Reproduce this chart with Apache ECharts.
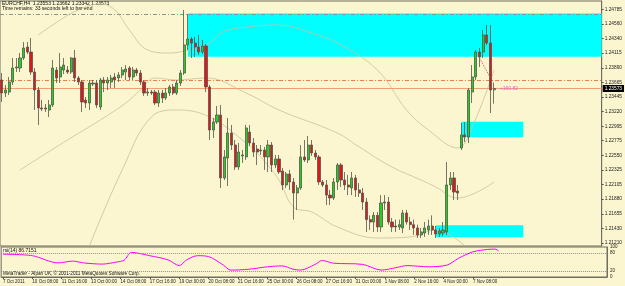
<!DOCTYPE html>
<html><head><meta charset="utf-8">
<script src="https://cdn.jsdelivr.net/npm/echarts@6/dist/echarts.min.js"></script>
<style>html,body{margin:0;padding:0;background:#fbf6cf;}#c{width:625px;height:286px;}</style>
</head><body><div id="c"></div>
<script>
const xTickLabels = ['7 Oct 2011','10 Oct 08:00','11 Oct 16:00','13 Oct 00:00','14 Oct 08:00','17 Oct 16:00','19 Oct 00:00','20 Oct 08:00','21 Oct 16:00','25 Oct 00:00','26 Oct 08:00','27 Oct 16:00','31 Oct 00:00','1 Nov 08:00','2 Nov 16:00','4 Nov 00:00','7 Nov 08:00'];
const priceTickLabels = ['1.24785','1.24560','1.24340','1.24115','1.23890','1.23665','1.23445','1.23220','1.22995','1.22775','1.22550','1.22325','1.22105','1.21880','1.21655','1.21430','1.21210'];
const rsiTickLabels = ['0','20','80','100'];

const opens = [
1.23703,1.23504,1.23519,1.23673,1.23887,1.23887,1.24040,1.24208,1.24131,1.23825,
1.23550,1.23275,1.23275,1.23244,1.23321,1.23856,1.23749,1.23856,1.23856,1.23825,
1.24040,1.23734,1.23673,1.23397,1.23351,1.23642,1.23657,1.23290,1.23703,1.23657,
1.23673,1.23749,1.23734,1.23780,1.23825,1.23887,1.23749,1.23856,1.23810,1.23673,
1.23504,1.23519,1.23519,1.23351,1.23504,1.23428,1.23504,1.23596,1.23504,1.23657,
1.23810,1.24239,1.24330,1.24269,1.24208,1.24131,1.24223,1.23596,1.22938,1.23061,
1.23168,1.22204,1.22510,1.22892,1.22708,1.22372,1.22541,1.22526,1.22907,1.22739,
1.22647,1.22617,1.22632,1.22526,1.22708,1.22403,1.22495,1.22311,1.22097,1.22265,
1.22143,1.21974,1.22051,1.22526,1.22480,1.22708,1.22586,1.22526,1.22143,1.22097,
1.21942,1.21898,1.22143,1.22403,1.22173,1.22097,1.22051,1.22204,1.22020,1.21974,
1.21836,1.21567,1.21530,1.21632,1.21454,1.21821,1.21836,1.21530,1.21469,1.21454,
1.21439,1.21668,1.21530,1.21490,1.21439,1.21332,1.21362,1.21408,1.21469,1.21408,
1.21347,1.21362,1.21378,1.22097,1.22204,1.22004,1.22663,1.22862,1.22831,1.23519,
1.23749,1.24131,1.24131,1.24392,1.24269,1.23553];
const highs = [
1.23810,1.23627,1.23749,1.24040,1.24040,1.24116,1.24284,1.24284,1.24346,1.23887,
1.23596,1.23397,1.23336,1.23397,1.24009,1.23902,1.24116,1.24040,1.23917,1.24055,
1.24162,1.23764,1.23703,1.23443,1.23703,1.23703,1.23703,1.23734,1.23749,1.23749,
1.23780,1.23810,1.23825,1.23902,1.23932,1.23917,1.23902,1.23887,1.23856,1.23703,
1.23581,1.23550,1.23550,1.23550,1.23550,1.23581,1.23627,1.23642,1.23703,1.23856,
1.24774,1.24713,1.24361,1.24361,1.24392,1.24315,1.24254,1.23627,1.23122,1.23305,
1.23321,1.22632,1.23122,1.23015,1.22785,1.22739,1.22632,1.23015,1.23015,1.22816,
1.22708,1.22708,1.22678,1.22785,1.22754,1.22556,1.22556,1.22357,1.22296,1.22327,
1.22204,1.22097,1.22708,1.22785,1.22846,1.22785,1.22632,1.22556,1.22173,1.22173,
1.22020,1.22204,1.22434,1.22434,1.22296,1.22250,1.22296,1.22250,1.22128,1.22051,
1.21898,1.21632,1.21683,1.21683,1.21942,1.21942,1.21913,1.21591,1.21567,1.21567,
1.21714,1.21714,1.21607,1.21567,1.21490,1.21439,1.21530,1.21567,1.21632,1.21469,
1.21439,1.21530,1.22449,1.22296,1.22296,1.22097,1.23045,1.23061,1.23581,1.23932,
1.24162,1.24193,1.24468,1.24545,1.24545,1.23662];
const lows = [
1.23367,1.23443,1.23474,1.23627,1.23825,1.23825,1.24009,1.24101,1.23780,1.23244,
1.23015,1.23229,1.23214,1.23137,1.23290,1.23657,1.23657,1.23795,1.23795,1.23795,
1.23673,1.23627,1.23214,1.23275,1.23244,1.23611,1.23275,1.23244,1.23519,1.23550,
1.23581,1.23581,1.23673,1.23734,1.23703,1.23703,1.23703,1.23764,1.23627,1.23459,
1.23459,1.23474,1.23321,1.23290,1.23351,1.23397,1.23459,1.23474,1.23474,1.23611,
1.23780,1.24162,1.24040,1.24055,1.24086,1.24101,1.23519,1.22785,1.22816,1.23030,
1.22051,1.22173,1.22081,1.22632,1.22327,1.22327,1.22434,1.22480,1.22693,1.22526,
1.22403,1.22556,1.22327,1.22296,1.22296,1.22357,1.22265,1.22020,1.22051,1.22020,
1.21567,1.21714,1.22020,1.22449,1.22434,1.22541,1.22480,1.22097,1.22066,1.21790,
1.21790,1.21867,1.22020,1.22066,1.22020,1.21942,1.21942,1.21913,1.21913,1.21714,
1.21378,1.21408,1.21378,1.21378,1.21378,1.21714,1.21490,1.21378,1.21378,1.21408,
1.21362,1.21490,1.21408,1.21332,1.21286,1.21286,1.21301,1.21332,1.21332,1.21286,
1.21301,1.21317,1.21332,1.22020,1.21867,1.21867,1.22632,1.22754,1.22739,1.23351,
1.23703,1.23902,1.24040,1.24239,1.23198,1.23342];
const closes = [
1.23504,1.23550,1.23673,1.23887,1.23902,1.24040,1.24193,1.24131,1.23825,1.23550,
1.23275,1.23260,1.23260,1.23321,1.23887,1.23734,1.23902,1.23932,1.23825,1.24040,
1.23734,1.23673,1.23367,1.23351,1.23657,1.23657,1.23321,1.23703,1.23657,1.23703,
1.23734,1.23703,1.23780,1.23856,1.23871,1.23749,1.23856,1.23810,1.23673,1.23504,
1.23519,1.23504,1.23351,1.23504,1.23428,1.23504,1.23596,1.23504,1.23657,1.23810,
1.24239,1.24330,1.24269,1.24208,1.24131,1.24223,1.23596,1.22938,1.23061,1.23168,
1.22204,1.22526,1.22892,1.22708,1.22372,1.22601,1.22556,1.22969,1.22739,1.22601,
1.22601,1.22632,1.22526,1.22708,1.22403,1.22495,1.22296,1.22097,1.22265,1.22143,
1.21974,1.22051,1.22526,1.22480,1.22708,1.22586,1.22526,1.22143,1.22097,1.21942,
1.21898,1.22143,1.22403,1.22173,1.22097,1.22066,1.22204,1.22020,1.21974,1.21836,
1.21567,1.21530,1.21632,1.21454,1.21821,1.21836,1.21530,1.21454,1.21454,1.21490,
1.21668,1.21530,1.21490,1.21439,1.21332,1.21378,1.21439,1.21469,1.21408,1.21347,
1.21393,1.21408,1.22097,1.22204,1.21989,1.21974,1.22862,1.22831,1.23550,1.23749,
1.24131,1.24055,1.24392,1.24269,1.23550,1.23573];

// Band lines: [bar index, price]
const upperBand = [[10,1.24392],[16,1.24621],[21,1.24774],[27,1.24866],[31,1.24774],[35,1.24468],[40,1.24162],[46,1.24116],[50,1.24147],[57,1.24269],[60,1.24422],[65,1.24499],[76,1.24545],[85,1.24422],[92,1.24269],[103,1.23856],[111,1.23244],[117,1.22938],[125,1.22663],[129,1.22984],[135,1.23856]];
const middleBand = [[5,1.22327],[18,1.22785],[27,1.23091],[34,1.23351],[38,1.23550],[42,1.23734],[48,1.23703],[56,1.23734],[67,1.23504],[76,1.23244],[92,1.22892],[98,1.22678],[107,1.22372],[115,1.22173],[119,1.22066],[125,1.21898],[135,1.22143]];
const lowerBand = [[24,1.21163],[33,1.22327],[41,1.23137],[48,1.23244],[57,1.23137],[67,1.22739],[71,1.22526],[76,1.22173],[80,1.21760],[85,1.21683],[92,1.21454],[103,1.21286],[112,1.21301],[119,1.21408],[127,1.21163]];

const rsiPoints = [[0,76],[8,71],[15,47],[19,53],[22,47],[27,43],[31,50],[33,56],[35,82],[40,71],[45,57],[48,38],[50,57],[53,71],[56,68],[60,40],[62,23],[67,26],[72,34],[76,37],[79,26],[81,23],[85,42],[87,55],[90,46],[98,42],[103,23],[107,31],[110,38],[116,34],[121,40],[124,62],[128,84],[132,92],[134,93],[135,86.7151]];

// rectangles: [from bar, to bar, top price, bottom price]
const boxes = [[51,164,1.24720,1.24059],[126,143,1.23065,1.22826],[119,143,1.21480,1.21296]];
const topLevel = 1.24713, orangeLevel = 1.23703, bidLevel = 1.23573;
const profitText = '+160.82';
// trade line (open -> current)
const tradeLine = [[131,1.24040],[134,1.23734]];

const slotCount = 165;
const categories = Array.from({length: slotCount}, (_, i) => String(i));
const candleData = opens.map((o, i) => [o, closes[i], lows[i], highs[i]]);
const priceTickValues = priceTickLabels.map(Number);
const rsiTickValues = rsiTickLabels.map(Number);
const FONT = 'Liberation Sans';
const labelEvery = 8;
const showTick = (i) => i % labelEvery === 0 && i / labelEvery < xTickLabels.length;

const chart = echarts.init(document.getElementById('c'), null, {renderer: 'canvas'});
chart.setOption({
  backgroundColor: '#fbf6cf',
  animation: false,
  textStyle: {fontFamily: FONT},
  grid: [
    {left: 0, right: 18, top: 1, height: 245, show: true, borderColor: '#6e6e60', borderWidth: 1, backgroundColor: 'transparent'},
    {left: 0, right: 18, top: 247, height: 30, show: true, borderColor: '#6e6e60', borderWidth: 1, backgroundColor: 'transparent'}
  ],
  xAxis: [
    {type: 'category', gridIndex: 0, data: categories, boundaryGap: true, axisLine: {show: false}, axisTick: {show: false}, axisLabel: {show: false}, splitLine: {show: false}},
    {type: 'category', gridIndex: 1, data: categories, boundaryGap: true,
      axisLine: {show: true, lineStyle: {color: '#6e6e60'}},
      axisTick: {show: true, alignWithLabel: true, length: 2, interval: showTick, lineStyle: {color: '#555'}},
      axisLabel: {show: true, interval: showTick,
        formatter: (v, i) => xTickLabels[i / labelEvery] || '', align: 'left', fontSize: 4.5, color: '#222', margin: 2, fontFamily: FONT},
      splitLine: {show: false}}
  ],
  yAxis: [
    {type: 'value', gridIndex: 0, position: 'right', min: 1.21163, max: 1.24912,
      axisLine: {show: true, lineStyle: {color: '#6e6e60'}},
      axisTick: {show: true, length: 2, customValues: priceTickValues, lineStyle: {color: '#555'}},
      axisLabel: {show: true, customValues: priceTickValues, formatter: (v) => v.toFixed(5), fontSize: 4.8, color: '#222', margin: 3, fontFamily: FONT},
      splitLine: {show: false}},
    {type: 'value', gridIndex: 1, position: 'right', min: 0, max: 100,
      axisLine: {show: true, lineStyle: {color: '#6e6e60'}},
      axisTick: {show: false},
      axisLabel: {show: true, customValues: rsiTickValues, formatter: (v) => String(v), fontSize: 4.5, color: '#222', margin: 3, fontFamily: FONT},
      splitLine: {show: false}}
  ],
  series: [
    {type: 'custom', xAxisIndex: 0, yAxisIndex: 0, z: 1, silent: true,
      encode: {x: [0, 1], y: [2, 3]},
      data: boxes,
      renderItem: (params, api) => {
        const band = api.size([1, 0])[0];
        const a = api.coord([api.value(0), api.value(2)]);
        const b = api.coord([api.value(1), api.value(3)]);
        const right = api.value(1) >= slotCount - 1 ? b[0] + band / 2 : b[0];
        return {type: 'rect', shape: {x: a[0], y: a[1], width: right - a[0], height: b[1] - a[1]}, style: {fill: '#00ffff'}};
      }},
    {type: 'line', xAxisIndex: 0, yAxisIndex: 0, z: 3, data: upperBand, smooth: 0.4, symbol: 'none', silent: true, lineStyle: {color: '#c9c09a', width: 0.8},
      markLine: {silent: true, symbol: ['none', 'none'], animation: false, precision: 5,
        data: [
          {yAxis: topLevel, lineStyle: {color: '#7f9a96', type: [4, 2, 1, 2], width: 1}, label: {show: false}},
          {yAxis: orangeLevel, lineStyle: {color: '#f0804a', type: [4, 2, 1, 2], width: 1}, label: {show: false}},
          {yAxis: bidLevel, lineStyle: {color: '#f2a070', type: 'solid', width: 1},
            label: {show: true, position: 'end', formatter: bidLevel.toFixed(5), backgroundColor: '#000', color: '#fff', fontSize: 4.8, padding: [1, 2], distance: 1, fontFamily: FONT}}
        ]},
      markPoint: {silent: true, symbol: 'circle', symbolSize: 2, itemStyle: {color: 'rgba(0,0,0,0)'}, data: [
        {coord: [136, bidLevel], label: {show: true, formatter: profitText, color: '#e060e0', fontSize: 5, position: 'right', distance: 1, fontFamily: FONT}}
      ]}},
    {type: 'line', xAxisIndex: 0, yAxisIndex: 0, z: 2, data: middleBand, smooth: 0.4, symbol: 'none', silent: true, lineStyle: {color: '#c9c09a', width: 0.8}},
    {type: 'line', xAxisIndex: 0, yAxisIndex: 0, z: 2, data: lowerBand, smooth: 0.4, symbol: 'none', silent: true, lineStyle: {color: '#c9c09a', width: 0.8}},
    {type: 'line', xAxisIndex: 0, yAxisIndex: 0, z: 6, data: tradeLine, symbol: 'none', silent: true, lineStyle: {color: '#e05050', width: 1, type: [1, 1]}},
    {type: 'candlestick', xAxisIndex: 0, yAxisIndex: 0, z: 5, data: candleData, barWidth: '72%',
      itemStyle: {color: '#1fd21f', color0: '#e5141a', borderColor: '#55554a', borderColor0: '#55554a', borderWidth: 0.8}},
    {type: 'line', xAxisIndex: 1, yAxisIndex: 1, z: 3, data: rsiPoints, smooth: 0.3, symbol: 'none', silent: true, lineStyle: {color: '#ff00ff', width: 1},
      markLine: {silent: true, symbol: ['none', 'none'], label: {show: false}, lineStyle: {color: '#777', type: [1, 1], width: 0.8},
        data: [{yAxis: 80}, {yAxis: 20}]}}
  ],
  graphic: [
    {type: 'text', left: 2, top: 1, style: {text: 'EURCHF,H4  1.23553 1.23662 1.23342 1.23573', fontSize: 5, fill: '#111', fontFamily: FONT}},
    {type: 'text', left: 2, top: 6, style: {text: 'Time remains: 33 seconds left to bar end', fontSize: 5, fill: '#111', fontFamily: FONT}},
    {type: 'text', left: 3, top: 248, style: {text: 'rsi(14) 86.7151', fontSize: 5, fill: '#111', fontFamily: FONT}},
    {type: 'text', left: 3, top: 271, style: {text: 'MetaTrader - Alpari UK, \u00a9 2001-2011 MetaQuotes Software Corp.', fontSize: 4.7, fill: '#111', fontFamily: FONT}}
  ]
});
</script>
</body></html>
